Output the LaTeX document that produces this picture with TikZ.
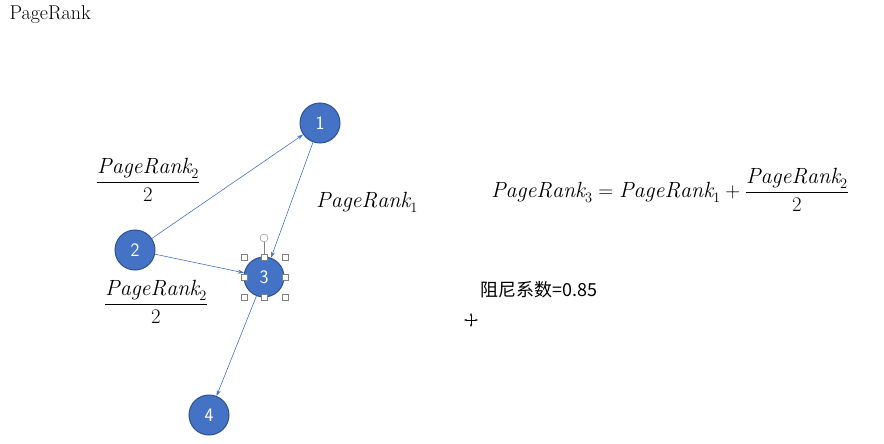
\documentclass[tikz,border=0pt]{standalone}
\usepackage{fontspec}
\usepackage{amsmath}
\newfontfamily\cjk{Noto Sans CJK SC}
\usetikzlibrary{arrows.meta}
\definecolor{nodefill}{HTML}{4472C4}
\definecolor{nodeline}{HTML}{2F528F}
\begin{document}
\begin{tikzpicture}[x=1pt,y=-1pt,
  pr/.style={circle,fill=nodefill,draw=nodeline,line width=1pt,minimum size=40pt,inner sep=0pt,text=white,font=\sffamily\fontsize{19}{22}\selectfont},
  link/.style={draw=nodefill,line width=0.6pt,-{Stealth[length=6pt,width=4pt]}},
  lbl/.style={font=\fontsize{22}{26}\selectfont},
  handle/.style={draw=gray,fill=white,line width=0.5pt,minimum size=6pt,inner sep=0pt}]
\useasboundingbox (0,0) rectangle (884,444);
\node[anchor=west,font=\fontsize{20}{24}\selectfont] (title) at (6,15) {PageRank};
\node[pr] (n1) at (320,123) {1};
\node[pr] (n2) at (135,250) {2};
\node[pr] (n3) at (264,277) {3};
\node[pr] (n4) at (209,415) {4};
\draw[link] (n2) -- (n1);
\draw[link] (n2) -- (n3);
\draw[link] (n1) -- (n3);
\draw[link] (n3) -- (n4);
\node[lbl] (f1) at (148,180) {$\dfrac{\mathit{PageRank}_2}{2}$};
\node[lbl] (f2) at (156,302) {$\dfrac{\mathit{PageRank}_2}{2}$};
\node[lbl] (p1) at (367,202) {$\mathit{PageRank}_1$};
\node[lbl] (eq) at (670,190) {$\mathit{PageRank}_3=\mathit{PageRank}_1+\dfrac{\mathit{PageRank}_2}{2}$};
\node[anchor=west,font=\cjk\fontsize{18}{21}\selectfont] (damp) at (477,290) {阻尼系数=0.85};
% selection handles
\draw[gray,line width=0.5pt] (264,257) -- (264,242);
\node[draw=gray,circle,fill=white,minimum size=8pt,inner sep=0pt] (rot) at (264,238) {};
\foreach \x/\y [count=\i] in {244/257,264/257,285/257,244/277,285/277,244/297,264/297,285/297}
  \node[handle] (h\i) at (\x,\y) {};
% move cursor
\coordinate (c) at (471,320);
\draw[black,line width=0.6pt,{Stealth[length=3pt]}-{Stealth[length=3pt]}] ([xshift=-7]c) -- ([xshift=7]c);
\draw[black,line width=0.6pt,{Stealth[length=3pt]}-{Stealth[length=3pt]}] ([yshift=-7]c) -- ([yshift=7]c);
\end{tikzpicture}
\end{document}
